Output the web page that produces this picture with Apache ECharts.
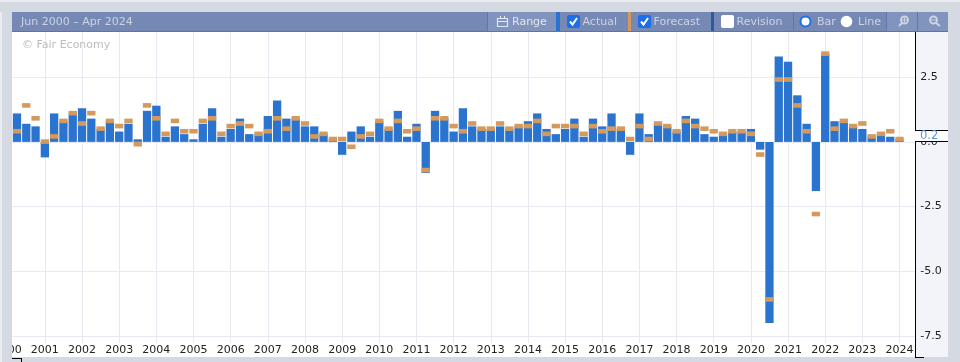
<!DOCTYPE html>
<html><head><meta charset="utf-8">
<style>html,body{margin:0;padding:0;background:#fff}#c{width:960px;height:362px}</style>
<script src="https://cdn.jsdelivr.net/npm/echarts@6/dist/echarts.min.js"></script>
</head><body><div id="c"></div>
<script>
const actual = [1.1,0.7,0.6,-0.6,1.1,0.8,1.1,1.3,0.9,0.5,0.8,0.4,0.7,0.1,1.2,1.4,0.2,0.6,0.3,0.1,0.7,1.3,0.2,0.5,0.9,
0.3,0.3,1.0,1.6,0.9,0.9,0.6,0.6,0.3,0.1,-0.5,0.4,0.6,0.2,0.8,0.5,1.2,0.2,0.7,-1.2,1.2,0.9,0.4,1.3,0.6,
0.5,0.5,0.6,0.5,0.6,0.8,1.1,0.5,0.3,0.5,0.9,0.2,0.9,0.6,1.1,0.5,-0.5,1.1,0.3,0.7,0.6,0.4,1.0,0.9,0.3,0.2,
0.3,0.4,0.4,0.5,-0.3,-7.0,3.3,3.1,1.8,0.7,-1.9,3.4,0.8,0.8,0.6,0.5,0.2,0.3,0.2,0.1];
const forecast = [0.5,1.5,1.0,0.1,0.3,0.9,1.2,0.8,1.2,0.6,0.9,0.7,0.9,0.0,1.5,1.0,0.4,0.9,0.5,0.5,0.9,1.0,0.4,0.7,0.8,
0.7,0.4,0.5,1.0,0.6,1.0,0.8,0.3,0.4,0.2,0.2,-0.1,0.3,0.4,0.9,0.6,0.9,0.5,0.6,-1.0,1.0,1.0,0.7,0.5,0.8,
0.6,0.6,0.8,0.6,0.7,0.7,0.9,0.4,0.7,0.7,0.7,0.4,0.7,0.5,0.6,0.6,0.2,0.7,0.2,0.8,0.7,0.5,0.9,0.7,0.6,0.5,
0.4,0.5,0.5,0.4,-0.4,-6.0,2.5,2.5,1.5,0.5,-2.7,3.5,0.6,0.9,0.7,0.8,0.3,0.4,0.5,0.2];
const yTicks = [-7.5,-5,-2.5,0,2.5];
const months = ['Mar','Jun','Sep','Dec'];
const categories = [];
for (let i = 0; i < 99; i++) categories.push(months[i % 4] + ' ' + (2000 + Math.floor(i / 4)));
const pad = a => [null].concat(a, [null, null]);
const yearTick = i => i % 4 === 0;

const FRAME = '#d5d9e2', HEAD = '#7589b4', BTN = '#8094bd', TXT = '#e3e7f0', DIM = '#ccd3e3';
const text = (x, y, s, fill, size, z, align) => ({type:'text', x, y, z: z || 12, silent:true,
  style:{text:s, fill:fill || TXT, font:(size||11)+'px "DejaVu Sans"', textAlign:align||'left', textVerticalAlign:'middle'}});
const rect = (x, y, w, h, fill, z, r) => ({type:'rect', z: z || 5, silent:true, shape:{x,y,width:w,height:h,r:r||0}, style:{fill}});
const line = (x1,y1,x2,y2,stroke,z,w) => ({type:'line', z: z||9, silent:true, shape:{x1,y1,x2,y2}, style:{stroke, lineWidth:w||1}});
const check = (x, y, on) => {
  const out = [rect(x, y, 13, 13, on ? '#1c6fe8' : '#fff', 11, 2)];
  if (on) out.push({type:'polyline', z:12, silent:true, shape:{points:[[x+3,y+6.5],[x+5.5,y+9.5],[x+10,y+3]]}, style:{stroke:'#fff', lineWidth:2, fill:'none'}});
  return out;
};
const graphics = [
  rect(0,0,960,12,FRAME), rect(0,0,960,2,'#e9ebf0',6),
  rect(0,12,12,350,FRAME), rect(0,12,2,350,'#e9ebf0',6),
  rect(915,32,33,325,'#f3f4f9'),
  rect(948,12,12,350,FRAME), rect(0,357,960,5,FRAME),
  rect(12,12,936,20,HEAD,7), rect(12,31,936,1,'#5a75a8',8),
  rect(487,12,461,19,BTN,7,0), rect(560,12,68,19,HEAD,7), rect(631,12,80,19,HEAD,7), rect(714,12,79,19,HEAD,7), rect(793,12,93,19,HEAD,7),
  rect(556,12,4,19,'#2a74cf',8), rect(628,12,3,19,'#d49a5d',8), rect(711,12,3,19,'#2f5a9e',8),
  line(487.5,12,487.5,31,'#5f78ab',9), line(793.5,12,793.5,31,'#5f78ab',9), line(886.5,12,886.5,31,'#5f78ab',9), line(917.5,12,917.5,31,'#5f78ab',9),
  text(21,22,'Jun 2000 \u2013 Apr 2024',DIM),
  {type:'rect', z:12, silent:true, shape:{x:497.5,y:18.5,width:10,height:8}, style:{fill:'none',stroke:TXT,lineWidth:1.2}},
  line(497,21.5,508,21.5,TXT,12), line(500.5,16,500.5,19,TXT,12), line(504.5,16,504.5,19,TXT,12),
  text(512,22,'Range'),
  ...check(567,15,true), text(582.5,22,'Actual',DIM),
  ...check(638,15,true), text(653.5,22,'Forecast',DIM),
  ...check(721,15,false), text(736.5,22,'Revision',DIM),
  {type:'circle', z:12, silent:true, shape:{cx:805.5,cy:21.5,r:5}, style:{fill:'#fff',stroke:'#1c6fe8',lineWidth:2}},
  text(817,22,'Bar',DIM),
  {type:'circle', z:12, silent:true, shape:{cx:846.5,cy:21.5,r:5.8}, style:{fill:'#fff'}},
  text(858,22,'Line',DIM),
  {type:'circle', z:12, silent:true, shape:{cx:904.5,cy:20,r:3.5}, style:{fill:'none',stroke:DIM,lineWidth:2}},
  line(902,20,907,20,DIM,12), line(904.5,17.5,904.5,22.5,DIM,12), line(902,23,899,26,DIM,12,2),
  {type:'circle', z:12, silent:true, shape:{cx:933.5,cy:20,r:3.5}, style:{fill:'none',stroke:DIM,lineWidth:2}},
  line(931,20,936,20,DIM,12), line(936,23,940,26,DIM,12,2),
  text(22,45,'\u00a9 Fair Economy','#bdbdbd'),
  line(915.5,343,915.5,357,'#000',9), line(915,357.5,924,357.5,'#000',9),
  line(12,358.5,21,358.5,'#000',9), line(21.5,358,21.5,362,'#000',9),
  rect(915,130,33,11.5,'#ffffff',8), line(915,130.5,948,130.5,'#000',9), line(915,141.5,948,141.5,'#000',9),
  text(920,136,'0.2','#5b93e0',11.5,10)
];
const yBase = {type:'value', min:-7.774, max:4.248, scale:false};
const chart = echarts.init(document.getElementById('c'), null, {renderer:'canvas'});
chart.setOption({
  animation:false,
  backgroundColor:'#fff',
  grid:{left:7.7, top:32, width:910.4, height:311, containLabel:false, outerBoundsMode:'none'},
  xAxis:{type:'category', data:categories, boundaryGap:false, containShape:false, z:0,
    axisLine:{show:false},
    axisTick:{show:false, interval:i=>yearTick(i)},
    splitLine:{show:true, interval:i=>yearTick(i), lineStyle:{color:'#e9e9f1', width:1}},
    axisLabel:{interval:i=>yearTick(i), showMinLabel:true, hideOverlap:false,
      formatter:v=>v.slice(-4), color:'#222', fontFamily:'DejaVu Sans', fontSize:11, margin:2}},
  yAxis:[
    Object.assign({}, yBase, {position:'right', z:0, axisLine:{show:false},
      axisTick:{show:false, customValues:yTicks}, axisLabel:{show:false, customValues:yTicks},
      splitLine:{show:true, customValues:yTicks, lineStyle:{color:'#e9e9f1', width:1}}}),
    Object.assign({}, yBase, {position:'right', offset:-2.8, z:6,
      axisLine:{show:true, onZero:false, lineStyle:{color:'#000', width:1}},
      axisTick:{show:false, customValues:yTicks},
      splitLine:{show:false},
      axisLabel:{customValues:yTicks, color:'#222', fontFamily:'DejaVu Sans', fontSize:11, margin:5, padding:[4,0,0,0],
        formatter:v=>Number(v).toFixed(1)}})
  ],
  series:[
    {name:'Actual', type:'bar', data:pad(actual), barWidth:8.3, z:2, itemStyle:{color:'#2a74cf'}, silent:true},
    {name:'Forecast', type:'scatter', data:pad(forecast), symbol:'rect', symbolSize:[8.3,4.6], symbolOffset:[0,2.3], z:3, itemStyle:{color:'#d49a5d', opacity:1}, silent:true},
    {type:'line', yAxisIndex:1, data:[], silent:true}
  ],
  graphic:{elements:graphics}
});
</script></body></html>
